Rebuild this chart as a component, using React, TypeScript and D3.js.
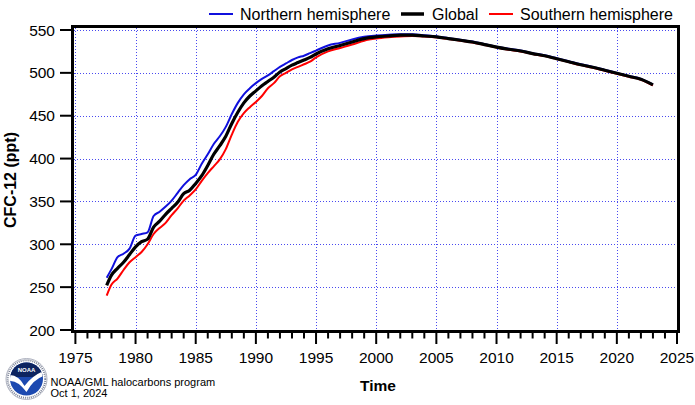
import * as d3 from 'd3';
import { useEffect, useRef } from 'react';

const W = 695;
const H = 405;

// time axis (decimal years) shared by the three series
const years = [
    1977.6, 1978.0, 1978.5, 1979.0, 1979.5, 1980.0, 1980.5, 1981.0, 1981.5, 1982.0, 1982.5, 1983.0, 1983.5, 1984.0,
    1984.5, 1985.0, 1985.5, 1986.0, 1986.5, 1987.0, 1987.5, 1988.0, 1988.5, 1989.0, 1989.5, 1990.0, 1990.5, 1991.0,
    1991.5, 1992.0, 1992.5, 1993.0, 1993.5, 1994.0, 1994.5, 1995, 1996, 1997, 1998, 1999, 2000, 2001, 2002, 2003,
    2004, 2005, 2006, 2007, 2008, 2009, 2010, 2011, 2012, 2013, 2014, 2015, 2016, 2017, 2018, 2019, 2020, 2021, 2022,
    2023.0,
];

const northern = [
    261, 271, 285, 289, 295, 310, 312, 314, 333, 338, 344, 351, 360, 369, 376, 381, 394, 405, 417, 426, 437, 452, 465,
    475, 482, 488, 493, 497, 502, 507, 511, 515, 518, 520, 523, 526, 532, 535, 539, 542, 543.5, 544.5, 545, 545, 544,
    542.5, 540.5, 538.5, 536.5, 533.5, 530.5, 528, 526, 523, 520.5, 517, 513.5, 510, 507, 503.5, 500, 496.5, 493, 486.5,
];

const global = [
    252, 264, 272, 279, 288, 297, 303, 306, 320, 327, 335, 342, 349, 359, 363, 371, 380, 392, 405, 415, 426, 441, 454,
    465, 473, 479, 485, 490, 495, 501, 505, 509, 512, 515, 518, 522, 528, 532, 536, 540, 542, 543, 544, 544, 543, 542,
    540, 538, 536, 533, 530, 527.5, 525.5, 522.5, 520, 516.5, 513, 509.5, 506.5, 503, 499.5, 496, 492.5, 486,
];

const southern = [
    240, 253, 260, 270, 279, 285, 291, 300, 312, 319, 325, 334, 342, 351, 357, 364, 374, 383, 391, 399, 411, 428, 443,
    453, 460, 466, 473, 482, 488, 496, 500, 504, 507, 510, 513, 518, 525, 529, 533, 537.5, 540, 541.5, 542.5, 543,
    542.5, 541.5, 539.5, 537.5, 535.5, 532.5, 529.5, 527, 525, 522, 519.5, 516, 512.5, 509, 506, 502.5, 499, 495.5,
    492, 485.5,
];

const xTicks = [1975, 1980, 1985, 1990, 1995, 2000, 2005, 2010, 2015, 2020, 2025];
const yTicks = [200, 250, 300, 350, 400, 450, 500, 550];

const seriesNames = ['Northern hemisphere', 'Global', 'Southern hemisphere'];
const seriesColors = ['#1010dd', '#000000', '#ff0000'];

const FONT = 'Liberation Sans, Arial, Helvetica, sans-serif';

const App = () => {
    const svgRef = useRef<SVGSVGElement | null>(null);

    useEffect(() => {
        if (!svgRef.current) return;
        const svg = d3.select(svgRef.current);
        svg.selectAll('*').remove();

        const x = d3.scaleLinear().domain([1975, 2025]).range([75.4, 677]);
        const y = d3.scaleLinear().domain([200, 550]).range([330, 30]);

        // Grid (dotted blue)
        const grid = svg.append('g').attr('stroke', '#4a4af0').attr('stroke-width', 1).attr('stroke-dasharray', '1,2');
        grid.selectAll('.vg')
            .data(xTicks)
            .join('line')
            .attr('x1', (d) => Math.round(x(d)) + 0.5)
            .attr('x2', (d) => Math.round(x(d)) + 0.5)
            .attr('y1', 28)
            .attr('y2', 330);
        grid.selectAll('.hg')
            .data(yTicks)
            .join('line')
            .attr('x1', 74)
            .attr('x2', 677)
            .attr('y1', (d) => Math.round(y(d)) + 0.5)
            .attr('y2', (d) => Math.round(y(d)) + 0.5);

        // Series lines: north, south, then global on top
        const table = years.map((yr, i) => ({ yr, n: northern[i], g: global[i], s: southern[i] }));
        const mk = (key: 'n' | 'g' | 's') =>
            d3
                .line<{ yr: number; n: number; g: number; s: number }>()
                .x((d) => x(d.yr))
                .y((d) => y(d[key]))
                .curve(d3.curveMonotoneX);

        const drawOrder: [('n' | 'g' | 's'), string, number][] = [
            ['n', seriesColors[0], 2],
            ['s', seriesColors[2], 2],
            ['g', seriesColors[1], 3.2],
        ];
        drawOrder.forEach(([k, c, w]) => {
            svg.append('path')
                .datum(table)
                .attr('d', mk(k))
                .attr('fill', 'none')
                .attr('stroke', c)
                .attr('stroke-width', w)
                .attr('stroke-linejoin', 'round');
        });

        // Frame
        svg.append('rect')
            .attr('x', 72.5)
            .attr('y', 26.5)
            .attr('width', 606)
            .attr('height', 305)
            .attr('fill', 'none')
            .attr('stroke', '#000')
            .attr('stroke-width', 3);

        // X ticks: majors every 5 years, minors every year
        const minor = d3.range(1975, 2026);
        svg.append('g')
            .selectAll('line')
            .data(minor)
            .join('line')
            .attr('x1', (d) => x(d))
            .attr('x2', (d) => x(d))
            .attr('y1', 333)
            .attr('y2', (d) => (d % 5 === 0 ? 344 : 338.5))
            .attr('stroke', '#000')
            .attr('stroke-width', 2);

        svg.append('g')
            .selectAll('text')
            .data(xTicks)
            .join('text')
            .attr('x', (d) => x(d))
            .attr('y', 363)
            .attr('text-anchor', 'middle')
            .style('font-family', FONT)
            .style('font-size', '15.5px')
            .text((d) => d);

        // Y ticks
        svg.append('g')
            .selectAll('line')
            .data(yTicks)
            .join('line')
            .attr('x1', 60)
            .attr('x2', 72)
            .attr('y1', (d) => y(d))
            .attr('y2', (d) => y(d))
            .attr('stroke', '#000')
            .attr('stroke-width', 2);

        svg.append('g')
            .selectAll('text')
            .data(yTicks)
            .join('text')
            .attr('x', 55)
            .attr('y', (d) => y(d) + 5.5)
            .attr('text-anchor', 'end')
            .style('font-family', FONT)
            .style('font-size', '15.5px')
            .text((d) => d);

        // Axis titles
        svg.append('text')
            .attr('transform', `translate(16,180) rotate(-90)`)
            .attr('text-anchor', 'middle')
            .style('font-family', FONT)
            .style('font-size', '16px')
            .style('font-weight', 'bold')
            .text('CFC-12 (ppt)');

        svg.append('text')
            .attr('x', 378)
            .attr('y', 391)
            .attr('text-anchor', 'middle')
            .style('font-family', FONT)
            .style('font-size', '15.5px')
            .style('font-weight', 'bold')
            .text('Time');

        // Legend
        const legendX = [[209, 233, 240], [401, 424, 432], [489, 513, 520]];
        const legendW = [2, 3.5, 2];
        seriesNames.forEach((name, i) => {
            const [x1, x2, tx] = legendX[i];
            svg.append('line')
                .attr('x1', x1)
                .attr('x2', x2)
                .attr('y1', 14)
                .attr('y2', 14)
                .attr('stroke', seriesColors[i])
                .attr('stroke-width', legendW[i]);
            svg.append('text')
                .attr('x', tx)
                .attr('y', 19.5)
                .style('font-family', FONT)
                .style('font-size', '16px')
                .text(name);
        });

        // Credit text
        svg.append('text')
            .attr('x', 50.5)
            .attr('y', 385.5)
            .style('font-family', FONT)
            .style('font-size', '11px')
            .text('NOAA/GML halocarbons program');
        svg.append('text')
            .attr('x', 50.5)
            .attr('y', 397)
            .style('font-family', FONT)
            .style('font-size', '11px')
            .text('Oct 1, 2024');

        // NOAA logo (simplified)
        const logo = svg.append('g').attr('transform', 'translate(26.5,379)');
        logo.append('circle').attr('r', 20.5).attr('fill', '#fff').attr('stroke', '#9aa0b0').attr('stroke-width', 0.8);
        logo.append('circle')
            .attr('r', 18.8)
            .attr('fill', 'none')
            .attr('stroke', '#7a8296')
            .attr('stroke-width', 2)
            .attr('stroke-dasharray', '1,1');
        const defs = svg.append('defs');
        defs.append('clipPath').attr('id', 'noaaClip').append('circle').attr('r', 16.5);
        const inner = logo.append('g').attr('clip-path', 'url(#noaaClip)');
        inner.append('rect').attr('x', -17).attr('y', -17).attr('width', 34).attr('height', 34).attr('fill', '#1c49b0');
        inner.append('rect').attr('x', -17).attr('y', -17).attr('width', 34).attr('height', 15).attr('fill', '#0d2460');
        inner.append('path')
            .attr('d', 'M-17,-4 Q-8,-4 -2,7 Q5,-3 17,-8 L17,-3 Q7,0 0,13 Q-9,1 -17,2 Z')
            .attr('fill', '#fff');
        logo.append('text')
            .attr('x', 0)
            .attr('y', -7)
            .attr('text-anchor', 'middle')
            .style('font-family', FONT)
            .style('font-size', '6px')
            .style('font-weight', 'bold')
            .attr('fill', '#fff')
            .text('NOAA');
    }, []);

    return (
        <svg
            ref={svgRef}
            width={W}
            height={H}
            style={{ position: 'absolute', left: 0, top: 0, display: 'block', background: '#fff' }}
        ></svg>
    );
};

export default App;
